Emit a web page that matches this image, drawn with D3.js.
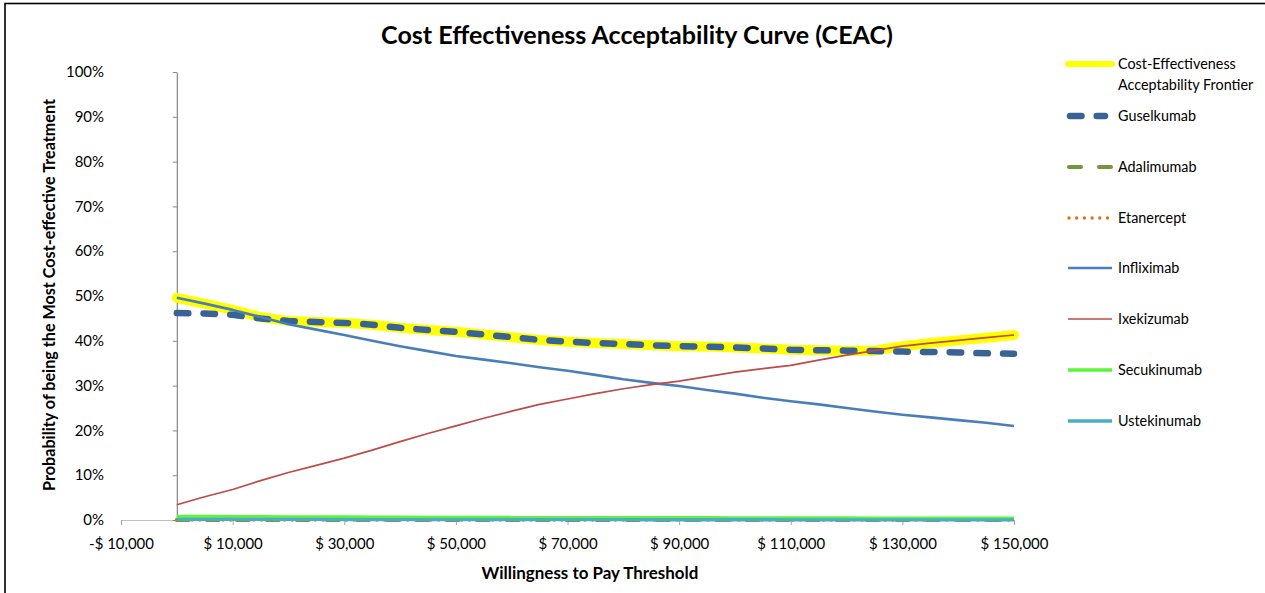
<!DOCTYPE html>
<html>
<head>
<meta charset="utf-8">
<script src="https://cdn.jsdelivr.net/npm/d3@7"></script>
<style>
  body { margin: 0; background: #fff; }
  svg { display: block; }
  text { font-family: Lato, "Open Sans", "DejaVu Sans", sans-serif; fill: #000; }
</style>
</head>
<body>
<svg id="chart" width="1265" height="593"></svg>
<script>
// Willingness-to-pay thresholds ($)
const wtp = [0, 5000, 10000, 15000, 20000, 25000, 30000, 35000, 40000, 45000, 50000,
  55000, 60000, 65000, 70000, 75000, 80000, 85000, 90000, 95000, 100000,
  105000, 110000, 115000, 120000, 125000, 130000, 135000, 140000, 145000, 150000];

// Probability (%) of each option being the most cost-effective
const frontier = [49.6, 48.3, 46.9, 45.3, 44.4, 44.2, 44.0, 43.6, 42.9, 42.4, 42.0,
  41.4, 40.8, 40.2, 39.8, 39.5, 39.3, 39.0, 38.8, 38.7, 38.5,
  38.3, 38.0, 37.9, 37.8, 37.8, 38.8, 39.5, 40.1, 40.7, 41.3];
const guselkumab = [46.2, 46.1, 45.8, 45.0, 44.4, 44.2, 44.0, 43.6, 42.9, 42.4, 42.0,
  41.4, 40.8, 40.2, 39.8, 39.5, 39.3, 39.0, 38.8, 38.7, 38.5,
  38.3, 38.0, 37.9, 37.8, 37.7, 37.6, 37.5, 37.4, 37.2, 37.1];
const adalimumab = [0, 0, 0, 0, 0, 0, 0, 0, 0, 0, 0, 0, 0, 0, 0, 0,
  0, 0, 0, 0, 0, 0, 0, 0, 0, 0, 0, 0, 0, 0, 0];
const etanercept = [0, 0, 0, 0, 0, 0, 0, 0, 0, 0, 0, 0, 0, 0, 0, 0,
  0, 0, 0, 0, 0, 0, 0, 0, 0, 0, 0, 0, 0, 0, 0];
const infliximab = [49.6, 48.3, 46.9, 45.3, 43.7, 42.5, 41.3, 40.0, 38.8, 37.7, 36.6,
  35.8, 35.0, 34.1, 33.3, 32.4, 31.4, 30.6, 29.9, 29.0, 28.2,
  27.3, 26.5, 25.8, 25.0, 24.2, 23.5, 22.9, 22.3, 21.7, 21.0];
const ixekizumab = [3.4, 5.2, 6.8, 8.8, 10.6, 12.2, 13.8, 15.6, 17.5, 19.3, 21.0,
  22.7, 24.3, 25.8, 27.0, 28.2, 29.3, 30.2, 31.0, 32.0, 33.0,
  33.8, 34.5, 35.7, 36.8, 37.8, 38.8, 39.5, 40.1, 40.7, 41.3];
const secukinumab = [0.8, 0.8, 0.75, 0.75, 0.7, 0.7, 0.7, 0.65, 0.65, 0.6, 0.6,
  0.6, 0.55, 0.55, 0.55, 0.5, 0.5, 0.5, 0.5, 0.5, 0.45,
  0.45, 0.45, 0.45, 0.45, 0.4, 0.4, 0.4, 0.4, 0.4, 0.4];
const ustekinumab = [0.15, 0.15, 0.15, 0.12, 0.12, 0.12, 0.1, 0.1, 0.1, 0.1, 0.1,
  0.1, 0.08, 0.08, 0.08, 0.08, 0.08, 0.06, 0.06, 0.06, 0.06,
  0.06, 0.05, 0.05, 0.05, 0.05, 0.05, 0.05, 0.05, 0.05, 0.05];

const xTickValues = [-10000, 10000, 30000, 50000, 70000, 90000, 110000, 130000, 150000];
const yTickValues = [0, 0.1, 0.2, 0.3, 0.4, 0.5, 0.6, 0.7, 0.8, 0.9, 1.0];

const series = [
  { name: "Cost-Effectiveness\nAcceptability Frontier", values: frontier, color: "#FFFF00", width: 10, dash: null, cap: "round" },
  { name: "Guselkumab", values: guselkumab, color: "#386394", width: 6.5, dash: "11.5,15.2", cap: "round" },
  { name: "Adalimumab", values: adalimumab, color: "#77933C", width: 4, dash: "12,18", cap: "round" },
  { name: "Etanercept", values: etanercept, color: "#E46C0A", width: 3.3, dash: "0,7.7", cap: "round" },
  { name: "Infliximab", values: infliximab, color: "#4A7EBB", width: 2.6, dash: null, cap: "butt" },
  { name: "Ixekizumab", values: ixekizumab, color: "#BE4B48", width: 1.7, dash: null, cap: "butt" },
  { name: "Secukinumab", values: secukinumab, color: "#5CF53A", width: 3.3, dash: null, cap: "butt" },
  { name: "Ustekinumab", values: ustekinumab, color: "#4BACC6", width: 3.3, dash: null, cap: "butt" }
];

const svg = d3.select("#chart");

// Outer chart frame
svg.append("rect")
  .attr("x", 5).attr("y", 3.5)
  .attr("width", 1400).attr("height", 800)
  .attr("fill", "#fff").attr("stroke", "#000").attr("stroke-width", 1.6);

const x = d3.scaleLinear().domain([-10000, 150000]).range([121, 1014]);
const y = d3.scaleLinear().domain([0, 1]).range([520, 72]);

// Scale a text's font so it spans a given width
function fit(sel, target) {
  sel.style("font-size", "100px");
  const w = sel.node().getComputedTextLength();
  const size = 100 * target / w;
  sel.style("font-size", size + "px");
  return size;
}

// X axis (gray line and ticks along 0%)
const moneyFmt = v => (v < 0 ? "-" : "") + "$ " + d3.format(",")(Math.abs(v));
const xAxis = d3.axisBottom(x).tickValues(xTickValues).tickFormat(moneyFmt)
  .tickSizeInner(5).tickSizeOuter(0).tickPadding(13);
const gx = svg.append("g").attr("transform", `translate(0,${y(0)})`).call(xAxis);
gx.select(".domain").attr("stroke", "#BFBFBF").attr("stroke-width", 1.2);
gx.selectAll(".tick line").attr("stroke", "#A6A6A6");
gx.selectAll(".tick text").attr("fill", "#000");
const xLabelSize = fit(gx.selectAll(".tick text").filter(d => d === 150000), 68);
gx.selectAll(".tick text").style("font-size", xLabelSize + "px").style("font-family", "Lato, 'Open Sans', sans-serif");

// Y axis line crossing at $0, labels kept at the plot's left edge
const gy = svg.append("g").attr("transform", `translate(${x(0)},0)`)
  .call(d3.axisLeft(y).tickValues(yTickValues).tickFormat(d3.format(".0%"))
    .tickSizeInner(4).tickSizeOuter(0).tickPadding(0));
gy.select(".domain").attr("stroke", "#868686").attr("stroke-width", 1.2);
gy.selectAll(".tick line").attr("stroke", "#868686");
gy.selectAll(".tick text").attr("x", 104 - x(0)).attr("fill", "#000")
  .style("font-family", "Lato, 'Open Sans', sans-serif");
const yLabelSize = fit(gy.selectAll(".tick text").filter(d => d === 1), 38);
gy.selectAll(".tick text").style("font-size", yLabelSize + "px");

// Curves
const line = d3.line()
  .x((d, i) => x(wtp[i]))
  .y(d => y(d / 100));

svg.append("g").selectAll("path")
  .data(series)
  .join("path")
  .attr("d", s => line(s.values))
  .attr("fill", "none")
  .attr("stroke", s => s.color)
  .attr("stroke-width", s => s.width)
  .attr("stroke-dasharray", s => s.dash)
  .attr("stroke-linecap", s => s.cap)
  .attr("stroke-linejoin", "round");

// Title
const title = svg.append("text")
  .attr("x", 637).attr("y", 44)
  .attr("text-anchor", "middle")
  .style("font-weight", "bold")
  .text("Cost Effectiveness Acceptability Curve (CEAC)");
fit(title, 512);

// Axis titles
const xTitle = svg.append("text")
  .attr("x", 590).attr("y", 579)
  .attr("text-anchor", "middle")
  .style("font-weight", "bold")
  .text("Willingness to Pay Threshold");
fit(xTitle, 217);

const yTitle = svg.append("text")
  .attr("transform", "translate(55,295) rotate(-90)")
  .attr("text-anchor", "middle")
  .style("font-weight", "bold")
  .text("Probability of being the Most Cost-effective Treatment");
fit(yTitle, 392);

// Legend
const legendY = [64, 116, 167, 218, 268, 319, 370, 421];
const legend = svg.append("g");
let legendSize = null;
series.forEach((s, i) => {
  const g = legend.append("g").attr("transform", `translate(0,${legendY[i]})`);
  const ls = s.name === "Guselkumab" ? { x1: 1070, x2: 1105 } :
             s.name === "Adalimumab" ? { x1: 1069, x2: 1111 } :
             s.name === "Etanercept" ? { x1: 1069, x2: 1112 } : { x1: 1068, x2: 1112 };
  g.append("line")
    .attr("x1", ls.x1).attr("x2", ls.x2).attr("y1", 0).attr("y2", 0)
    .attr("stroke", s.color)
    .attr("stroke-width", s.name.startsWith("Cost") ? 6 : s.width)
    .attr("stroke-dasharray", s.dash)
    .attr("stroke-linecap", s.cap === "round" || s.name.startsWith("Cost") ? "round" : "butt");
  const lines = s.name.split("\n");
  const t = g.append("text").attr("x", 1118).attr("y", 0).attr("dy", "0.35em");
  lines.forEach((ln, j) => {
    t.append("tspan").attr("x", 1118).attr("dy", j === 0 ? "0.35em" : "1.45em").text(ln);
  });
  if (s.name === "Guselkumab") legendSize = fit(t, 78);
});
legend.selectAll("text").style("font-size", legendSize + "px");
</script>
</body>
</html>
